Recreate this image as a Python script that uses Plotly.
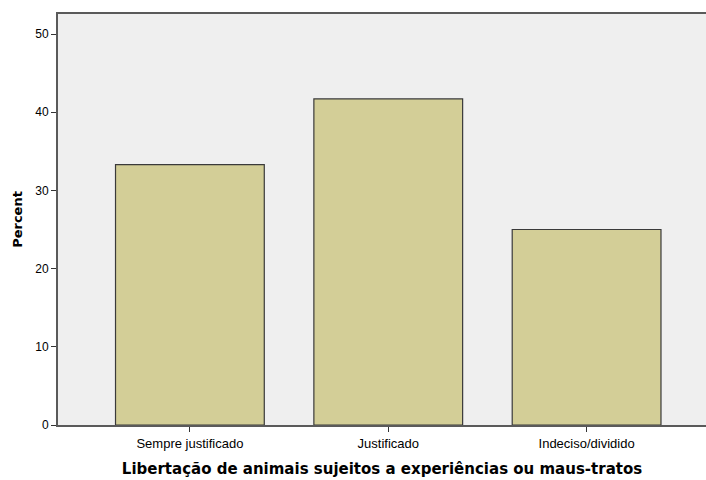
import plotly.graph_objects as go

categories = ["Sempre justificado", "Justificado", "Indeciso/dividido"]
percent = [33.3, 41.7, 25.0]
y_ticks = [0, 10, 20, 30, 40, 50]

fig = go.Figure()
fig.add_trace(go.Bar(
    x=categories, y=percent, width=0.75,
    marker=dict(color="#D3CE97", line=dict(color="#3a3a3a", width=1.2)),
    hoverinfo="skip",
))

fig.update_layout(
    width=706, height=480,
    margin=dict(l=58, r=0, t=14, b=55),
    paper_bgcolor="white", plot_bgcolor="#EFEFEF",
    font=dict(family="Liberation Sans, Arial, sans-serif", color="#000000", size=11),
    showlegend=False,
    xaxis=dict(
        range=[-0.665, 2.602], showgrid=False, zeroline=False,
        showline=True, mirror=True, linecolor="#5a5a5a", linewidth=2,
        ticks="outside", ticklen=5, tickcolor="#333333", tickwidth=1.2,
        tickfont=dict(size=13),
        title=dict(text="<b>Libertação de animais sujeitos a experiências ou maus-tratos</b>",
                   font=dict(size=15, family="DejaVu Sans, sans-serif"), standoff=14),
    ),
    yaxis=dict(
        range=[0, 52.56], showgrid=False, zeroline=False,
        tickvals=y_ticks,
        showline=True, linecolor="#5a5a5a", linewidth=2,
        ticks="outside", ticklen=5, tickcolor="#333333", tickwidth=1.2,
        tickfont=dict(size=12),
        title=dict(text="<b>Percent</b>", font=dict(size=13, family="DejaVu Sans, sans-serif"), standoff=10),
    ),
)

fig.write_html("out.html", config={"displayModeBar": False},
               post_script="document.body.style.margin='0';")
